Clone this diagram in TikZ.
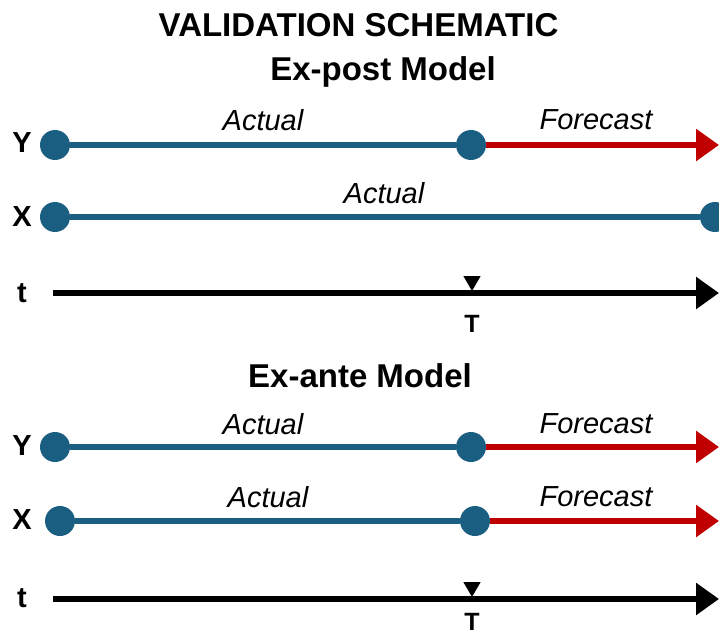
\documentclass[tikz,border=0pt]{standalone}
\usepackage{fontspec}
\setmainfont{Liberation Sans}
\usetikzlibrary{arrows.meta,shapes.geometric}
\definecolor{myblue}{HTML}{1A5E82}
\definecolor{myred}{HTML}{C00000}
\tikzset{
  dot/.style={circle, fill=myblue, inner sep=0pt, minimum size=30pt},
  bline/.style={line width=6pt, draw=myblue},
  rline/.style={line width=6pt, draw=myred, -{Triangle[length=23pt,width=31pt]}},
  kline/.style={line width=6pt, draw=black, -{Triangle[length=23pt,width=31pt]}},
  tmark/.style={regular polygon, regular polygon sides=3, shape border rotate=180, fill=black, inner sep=0pt, minimum size=20pt},
  ttl/.style={font=\fontsize{33}{38}\selectfont\bfseries},
  lbl/.style={font=\fontsize{29}{33}\selectfont\bfseries},
  tlbl/.style={font=\fontsize{25}{29}\selectfont\bfseries, inner sep=1pt},
  itl/.style={font=\fontsize{29}{34}\selectfont\itshape}
}
\begin{document}
\begin{tikzpicture}[x=1pt,y=-1pt]
\useasboundingbox (0,0) rectangle (719,636);
% titles
\node[ttl] (title) at (358.5,25) {VALIDATION SCHEMATIC};
\node[ttl] (m1) at (383,72) {Ex-post Model};
\node[ttl] (m2) at (360,376) {Ex-ante Model};
% ---------- Ex-post ----------
\node[lbl] (ly1) at (22,143) {Y};
\node[lbl] (lx1) at (22,217) {X};
\node[lbl] (lt1) at (22,293) {t};
\node[dot] (y1a) at (55,145) {};
\node[dot] (y1b) at (471,145) {};
\coordinate (y1e) at (719,145);
\draw[bline] (y1a) -- (y1b);
\draw[rline] (y1b) -- (y1e);
\node[itl] (ay1) at (263,120) {Actual};
\node[itl] (fy1) at (596,120) {Forecast};
\node[dot] (x1a) at (55,217) {};
\node[dot] (x1b) at (715,217) {};
\draw[bline] (x1a) -- (x1b);
\node[itl] (ax1) at (384,193) {Actual};
\coordinate (t1s) at (53,293);
\coordinate (t1e) at (719,293);
\draw[kline] (t1s) -- (t1e);
\node[tmark] (tm1) at (472,281) {};
\node[tlbl] (T1) at (472,324) {T};
% ---------- Ex-ante ----------
\node[lbl] (ly2) at (22,446) {Y};
\node[lbl] (lx2) at (22,520) {X};
\node[lbl] (lt2) at (22,598) {t};
\node[dot] (y2a) at (55,447) {};
\node[dot] (y2b) at (471,447) {};
\coordinate (y2e) at (719,447);
\draw[bline] (y2a) -- (y2b);
\draw[rline] (y2b) -- (y2e);
\node[itl] (ay2) at (263,424) {Actual};
\node[itl] (fy2) at (596,424) {Forecast};
\node[dot] (x2a) at (60,521) {};
\node[dot] (x2b) at (475,521) {};
\coordinate (x2e) at (719,521);
\draw[bline] (x2a) -- (x2b);
\draw[rline] (x2b) -- (x2e);
\node[itl] (ax2) at (268,497) {Actual};
\node[itl] (fx2) at (596,497) {Forecast};
\coordinate (t2s) at (53,599);
\coordinate (t2e) at (719,599);
\draw[kline] (t2s) -- (t2e);
\node[tmark] (tm2) at (472,587) {};
\node[tlbl] (T2) at (472,622) {T};
\end{tikzpicture}
\end{document}
